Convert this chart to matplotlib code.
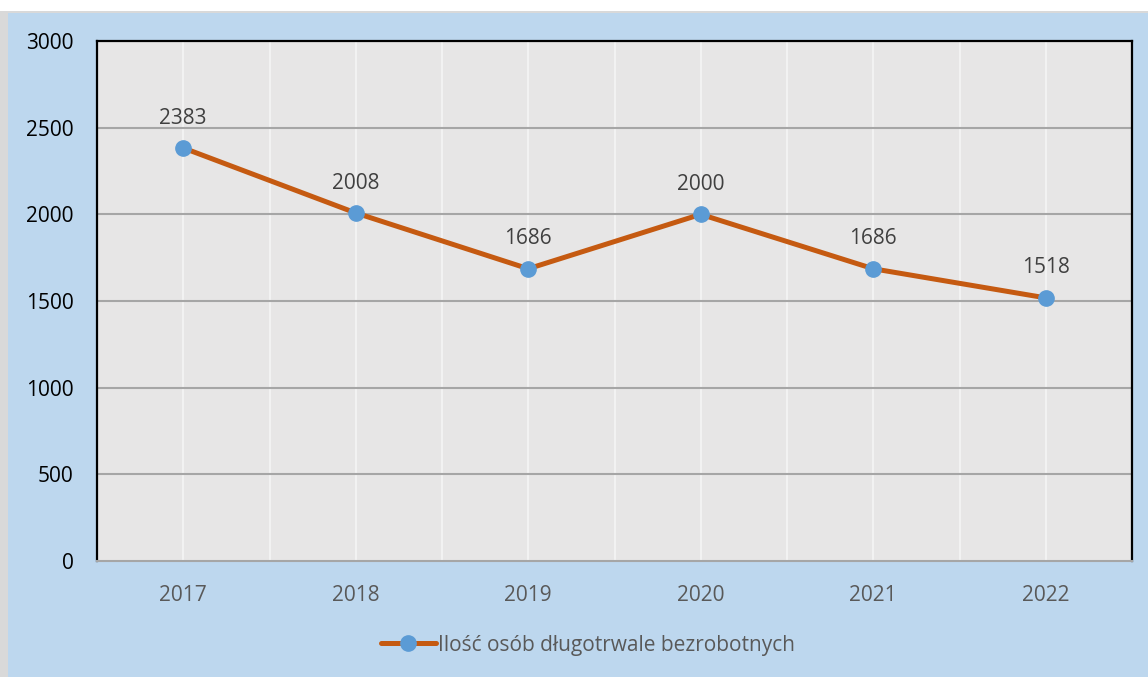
import matplotlib.pyplot as plt
from matplotlib.patches import Rectangle

# dane
lata = ['2017', '2018', '2019', '2020', '2021', '2022']
osoby = [2383, 2008, 1686, 2000, 1686, 1518]
nazwa = 'Ilość osób długotrwale bezrobotnych'

plt.rcParams['font.family'] = ['Open Sans', 'DejaVu Sans']

W, H = 1148, 677
fig = plt.figure(figsize=(W / 100, H / 100), dpi=100, facecolor='white')

# tło wykresu (jasnoniebieskie) z szarą ramką z lewej i u góry
fig.patches.append(Rectangle((0, 0), 8 / W, 1 - 11 / H, transform=fig.transFigure,
                             facecolor='#D9D9D9', edgecolor='none', zorder=-3))
fig.patches.append(Rectangle((0, 1 - 13 / H), 1, 2 / H, transform=fig.transFigure,
                             facecolor='#D9D9D9', edgecolor='none', zorder=-3))
fig.patches.append(Rectangle((8 / W, 0), 1, 1 - 13 / H, transform=fig.transFigure,
                             facecolor='#BDD7EE', edgecolor='none', zorder=-2))

left, right, top, bottom = 97, 1132, 41, 561
ax = fig.add_axes([left / W, 1 - bottom / H, (right - left) / W, (bottom - top) / H])
ax.set_facecolor('#E7E6E6')

x = list(range(len(lata)))
ax.set_xlim(-0.5, len(lata) - 0.5)
ax.set_ylim(0, 3000)

# siatka
for yv in range(500, 3000, 500):
    ax.axhline(yv, color='#A6A6A6', lw=1.5, zorder=1)
for i in range(len(lata)):
    ax.axvline(i, color='#F2F2F2', lw=1.5, zorder=0.9)
    if i > 0:
        ax.axvline(i - 0.5, color='#F2F2F2', lw=1.5, zorder=0.9)

ax.plot(x, osoby, color='#C55A11', lw=3.6, marker='o', markersize=11,
        markerfacecolor='#5B9BD5', markeredgecolor='#5B9BD5', zorder=3,
        solid_capstyle='round', label=nazwa)

for xi, v in zip(x, osoby):
    ax.annotate(str(v), (xi, v), xytext=(0, 14), textcoords='offset points',
                ha='center', va='bottom', fontsize=15, color='#404040')

ax.set_yticks(range(0, 3001, 500))
ax.set_xticks(x)
ax.set_xticklabels(lata)
ax.tick_params(axis='y', length=0, pad=17, labelsize=15, labelcolor='black')
ax.tick_params(axis='x', length=0, pad=17, labelsize=15, labelcolor='#595959')

for s in ['left', 'top', 'right']:
    ax.spines[s].set_color('black')
    ax.spines[s].set_linewidth(1.6)
ax.spines['bottom'].set_color('#A6A6A6')
ax.spines['bottom'].set_linewidth(1.5)

leg = fig.legend(loc='center', bbox_to_anchor=(588 / W, 1 - 645 / H), frameon=False,
                 fontsize=15, handlelength=2.6, handletextpad=0.1)
for t in leg.get_texts():
    t.set_color('#595959')

fig.savefig('out.png', dpi=100, facecolor=fig.get_facecolor())
